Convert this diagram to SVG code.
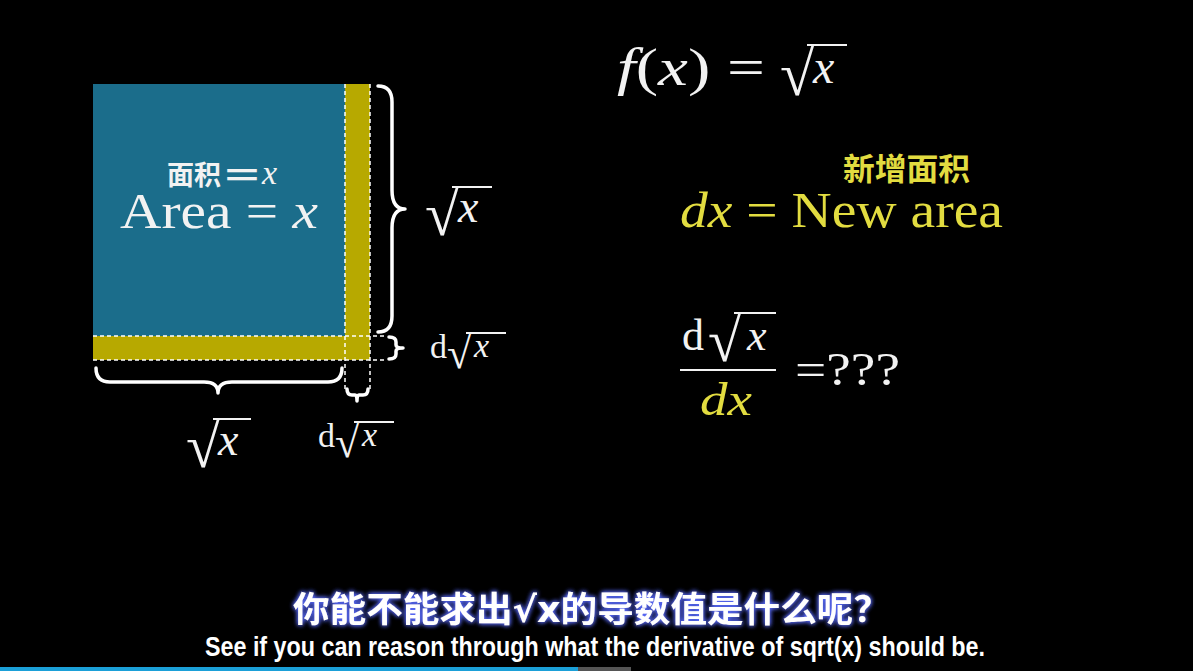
<svg xmlns="http://www.w3.org/2000/svg" width="1193" height="671" viewBox="0 0 1193 671">
<style>
.m{font-family:"Liberation Serif",serif;fill:#f2f2f2}
.i{font-style:italic}
.y{fill:#e2dc40}
.cjk{font-family:"Noto Sans CJK SC",sans-serif;font-weight:bold}
.dash{stroke:#ffffff;stroke-width:1.5;stroke-dasharray:4 3;fill:none}
.brace{stroke:#ffffff;stroke-width:3.5;fill:none;stroke-linecap:round;stroke-linejoin:round}
.bar{stroke:#f2f2f2;stroke-width:2.2}
</style>
<defs>
<filter id="glow" x="-5%" y="-30%" width="110%" height="160%">
<feGaussianBlur in="SourceAlpha" stdDeviation="2.5" result="b"/>
<feFlood flood-color="#5a6cff"/>
<feComposite in2="b" operator="in" result="g"/>
<feMerge><feMergeNode in="g"/><feMergeNode in="g"/><feMergeNode in="SourceGraphic"/></feMerge>
</filter>
</defs>
<rect width="1193" height="671" fill="#000"/>
<g id="square">
<rect x="93" y="84" width="252" height="252" fill="#1b6d8b"/>
<rect x="345" y="84" width="25" height="276" fill="#b7a900"/>
<rect x="93" y="336" width="252" height="24" fill="#b7a900"/>
<path class="dash" d="M345 84V392M370 84V392M93 336H385M93 360H385"/>
<text class="cjk" x="167" y="185" font-size="27" fill="#f2f2f2">面积</text>
<text class="cjk" x="225" y="186" font-size="30" fill="#f2f2f2" textLength="34" lengthAdjust="spacingAndGlyphs">=</text>
<text class="m i" x="262" y="184" font-size="34">x</text>
<text class="m" x="120" y="228" font-size="50" textLength="198" lengthAdjust="spacingAndGlyphs">Area = <tspan class="i">x</tspan></text>
</g>
<g id="braces">
<path class="brace" d="M378 86Q392 86 392 102V190Q392 209 405 209Q392 209 392 228V316Q392 332 378 332"/>
<path class="brace" d="M96 368Q96 382 110 382H204Q218 382 218 393Q218 382 232 382H328Q342 382 342 368"/>
<path class="brace" stroke-width="2.5" d="M389 337Q396 337 396 342V345Q396 348 403 348Q396 348 396 351V354Q396 359 389 359"/>
<path class="brace" stroke-width="2.5" d="M347 389Q347 395 352 395H355Q357 395 357 401Q357 395 359 395H363Q368 395 368 389"/>
</g>
<g id="labels">
<text class="m" x="425" y="235" font-size="62">√</text><line class="bar" x1="452" y1="187" x2="492" y2="187"/><text class="m i" x="458" y="222" font-size="46">x</text>
<text class="m" x="430" y="358" font-size="34">d</text><text class="m" x="447" y="368" font-size="44">√</text><line class="bar" x1="466" y1="333" x2="506" y2="333" stroke-width="1.8"/><text class="m i" x="474" y="357" font-size="34">x</text>
<text class="m" x="186" y="467" font-size="62">√</text><line class="bar" x1="213" y1="419" x2="251" y2="419"/><text class="m i" x="218" y="455" font-size="46">x</text>
<text class="m" x="318" y="447" font-size="34">d</text><text class="m" x="335" y="457" font-size="44">√</text><line class="bar" x1="354" y1="422" x2="394" y2="422" stroke-width="1.8"/><text class="m i" x="362" y="446" font-size="34">x</text>
</g>
<g id="formulas">
<text class="m" x="617" y="85" font-size="52" textLength="148" lengthAdjust="spacingAndGlyphs"><tspan class="i">f</tspan>(<tspan class="i">x</tspan>) = </text>
<text class="m" x="780" y="95" font-size="62">√</text><line class="bar" x1="807" y1="45" x2="847" y2="45"/><text class="m i" x="813" y="83" font-size="48">x</text>
<text class="cjk" x="843" y="180" font-size="31" fill="#e2dc40" textLength="127" lengthAdjust="spacingAndGlyphs">新增面积</text>
<text class="m y" x="680" y="227" font-size="50" textLength="323" lengthAdjust="spacingAndGlyphs"><tspan class="i">dx</tspan> = New area</text>
<text class="m" x="682" y="350" font-size="44">d</text><text class="m" x="708" y="361" font-size="60">√</text><line class="bar" x1="734" y1="313" x2="776" y2="313"/><text class="m i" x="747" y="350" font-size="44">x</text>
<line class="bar" x1="680" y1="370" x2="776" y2="370"/>
<text class="m i y" x="700" y="415" font-size="46" textLength="52" lengthAdjust="spacingAndGlyphs">dx</text>
<text class="m" x="795" y="385" font-size="46" textLength="105" lengthAdjust="spacingAndGlyphs">=???</text>
</g>
<g id="subtitles">
<text x="293" y="622" font-family="Noto Sans CJK SC,sans-serif" font-weight="bold" font-size="35" fill="#fff" filter="url(#glow)" textLength="597" lengthAdjust="spacingAndGlyphs">你能不能求出<tspan font-family="DejaVu Sans,sans-serif">√x</tspan>的导数值是什么呢？</text>
<text x="205" y="656" font-family="Liberation Sans Narrow,Liberation Sans,sans-serif" font-weight="bold" font-size="27" fill="#fff" textLength="780" lengthAdjust="spacingAndGlyphs">See if you can reason through what the derivative of sqrt(x) should be.</text>
</g>
<rect x="0" y="667" width="578" height="4" fill="#1ba0d8"/>
<rect x="578" y="667" width="53" height="4" fill="#555"/>
</svg>
